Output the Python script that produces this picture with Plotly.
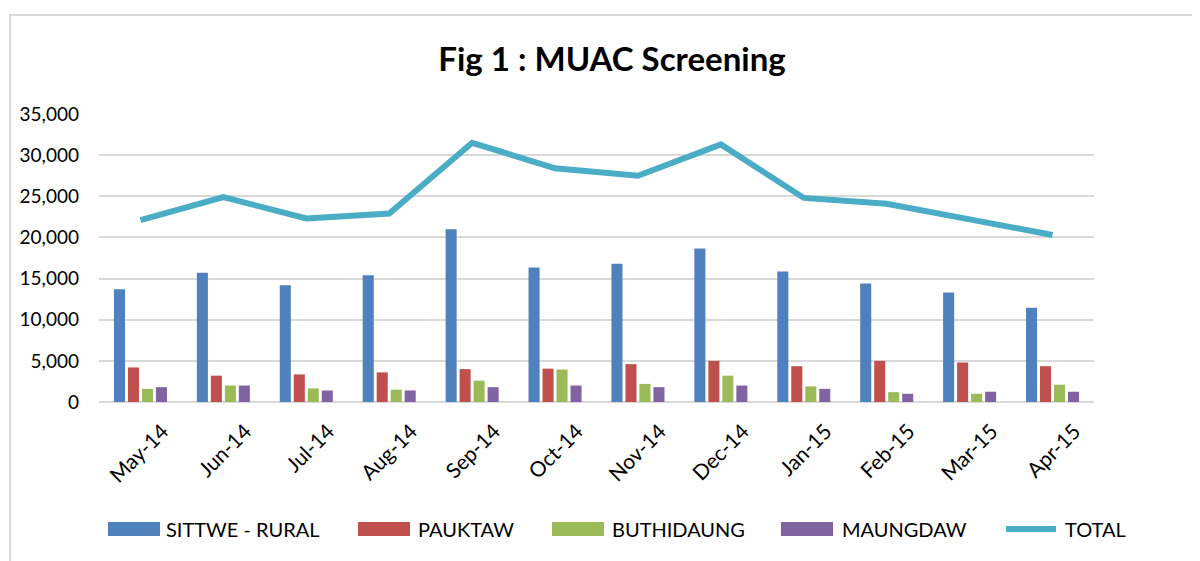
import plotly.graph_objects as go

months = ["May-14", "Jun-14", "Jul-14", "Aug-14", "Sep-14", "Oct-14",
          "Nov-14", "Dec-14", "Jan-15", "Feb-15", "Mar-15", "Apr-15"]
sittwe_rural = [13700, 15700, 14200, 15400, 21000, 16350, 16800, 18650, 15850, 14400, 13300, 11450]
pauktaw = [4200, 3200, 3350, 3600, 4000, 4050, 4600, 5000, 4350, 5000, 4800, 4350]
buthidaung = [1600, 2000, 1650, 1500, 2600, 3950, 2200, 3200, 1900, 1200, 1000, 2100]
maungdaw = [1800, 2000, 1400, 1400, 1800, 2000, 1800, 2000, 1600, 1000, 1250, 1250]
total = [22100, 24900, 22300, 22900, 31500, 28400, 27500, 31300, 24800, 24100, 22200, 20300]

names = ["SITTWE - RURAL", "PAUKTAW", "BUTHIDAUNG", "MAUNGDAW", "TOTAL"]
colors = ["#4F81BD", "#C0504D", "#9BBB59", "#8064A2", "#4BACC6"]

OFF = 8  # page body margin
W, H = 1200, 561
# plot area in screen coordinates: x 99..1094, y 114..402
L, T = 99 - OFF, 114 - OFF
pw, ph = 995, 288
R = W - L - pw
B = H - T - ph

def px(x):
    return (x - OFF - L) / pw

def py(y):
    return (T + ph - (y - OFF)) / ph

FONT = "Lato, Carlito, Calibri, sans-serif"

fig = go.Figure()
for vals, name, col in zip([sittwe_rural, pauktaw, buthidaung, maungdaw], names[:4], colors[:4]):
    fig.add_trace(go.Bar(x=months, y=vals, name=name, marker=dict(color=col, line=dict(width=0)),
                         showlegend=False))
fig.add_trace(go.Scatter(x=months, y=total, name=names[4], mode="lines",
                         line=dict(color=colors[4], width=6), showlegend=False))

shapes = []
annotations = []
# outer chart border
shapes.append(dict(type="rect", xref="paper", yref="paper",
                   x0=px(10), x1=px(1260), y0=py(15), y1=py(640),
                   line=dict(color="#D9D9D9", width=2), fillcolor="rgba(0,0,0,0)", layer="below"))

# custom legend
legend_items = [
    (108, 160, 164),
    (358, 410, 416),
    (552, 604, 610),
    (781, 833, 840),
    (1003, 1059, 1063),
]
ly = 529
for i, (sx0, sx1, tx) in enumerate(legend_items):
    if i < 4:
        shapes.append(dict(type="rect", xref="paper", yref="paper",
                           x0=px(sx0), x1=px(sx1), y0=py(ly + 7), y1=py(ly - 7),
                           line=dict(width=0), fillcolor=colors[i]))
    else:
        shapes.append(dict(type="line", xref="paper", yref="paper",
                           x0=px(sx0 + 3), x1=px(sx1 - 3), y0=py(ly), y1=py(ly),
                           line=dict(color=colors[i], width=6)))
    annotations.append(dict(text=names[i], xref="paper", yref="paper",
                            x=px(tx), y=py(ly), xanchor="left", yanchor="middle",
                            showarrow=False, font=dict(family=FONT, size=20, color="#000000")))

fig.update_layout(
    width=W, height=H,
    margin=dict(l=L, r=R, t=T, b=B, autoexpand=False),
    paper_bgcolor="white", plot_bgcolor="white",
    title=dict(text="<b>Fig 1 : MUAC Screening</b>", x=(612 - OFF) / W, xref="container",
               y=1 - (59 - OFF) / H, yref="container", xanchor="center", yanchor="middle",
               font=dict(family=FONT, size=33, color="#000000")),
    barmode="group", bargap=0.325, bargroupgap=0.21,
    xaxis=dict(tickangle=-45, tickfont=dict(family=FONT, size=21, color="#000000"),
               showline=False, showgrid=False, ticks="", automargin=False,
               ticklabelstandoff=12, ticklabelshift=22),
    yaxis=dict(range=[0, 35000], dtick=5000, tickformat=",", showgrid=True,
               gridcolor="#D9D9D9", gridwidth=1.5, zeroline=True, zerolinecolor="#D9D9D9",
               zerolinewidth=1.5, ticks="", tickfont=dict(family=FONT, size=19, color="#000000"),
               automargin=False, ticklabelstandoff=19),
    shapes=shapes, annotations=annotations,
    showlegend=False,
)

fig.write_html("out.html")
